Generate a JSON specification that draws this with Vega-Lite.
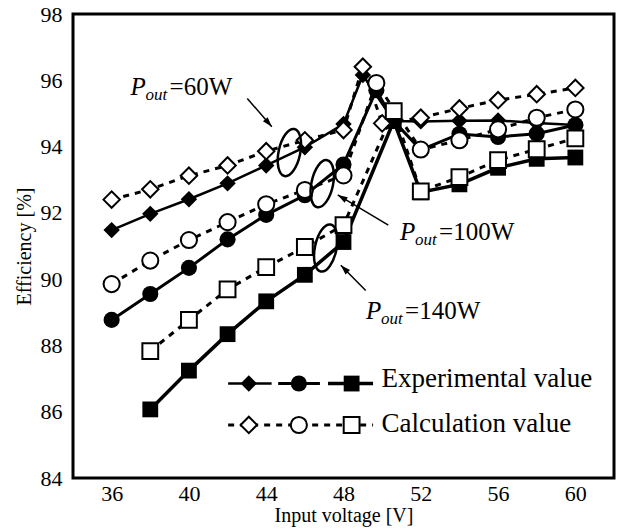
{
  "$schema": "https://vega.github.io/schema/vega-lite/v6.json",
  "width": 541,
  "height": 464,
  "autosize": "none",
  "padding": {"left": 73, "top": 14, "right": 6, "bottom": 52},
  "background": "white",
  "config": {
    "view": {"stroke": "black", "strokeWidth": 3},
    "axis": {
      "domain": false, "ticks": false,
      "labelFont": "Liberation Serif", "labelFontSize": 22, "labelColor": "black",
      "labelFlush": false, "labelOverlap": false, "labelBound": false,
      "titleFont": "Liberation Serif", "titleFontSize": 20, "titleFontWeight": "normal", "titleColor": "black",
      "grid": false
    }
  },
  "datasets": {
    "main": [
      {"V": 36, "eff": 91.48, "P": "60W", "type": "exp"},
      {"V": 38, "eff": 91.97, "P": "60W", "type": "exp"},
      {"V": 40, "eff": 92.41, "P": "60W", "type": "exp"},
      {"V": 42, "eff": 92.89, "P": "60W", "type": "exp"},
      {"V": 44, "eff": 93.43, "P": "60W", "type": "exp"},
      {"V": 46, "eff": 93.98, "P": "60W", "type": "exp"},
      {"V": 48, "eff": 94.68, "P": "60W", "type": "exp"},
      {"V": 49, "eff": 96.16, "P": "60W", "type": "exp"},
      {"V": 50.6, "eff": 94.77, "P": "60W", "type": "exp"},
      {"V": 52, "eff": 94.76, "P": "60W", "type": "exp"},
      {"V": 54, "eff": 94.78, "P": "60W", "type": "exp"},
      {"V": 56, "eff": 94.79, "P": "60W", "type": "exp"},
      {"V": 58, "eff": 94.71, "P": "60W", "type": "exp"},
      {"V": 60, "eff": 94.65, "P": "60W", "type": "exp"},
      {"V": 36, "eff": 92.40, "P": "60W", "type": "calc"},
      {"V": 38, "eff": 92.71, "P": "60W", "type": "calc"},
      {"V": 40, "eff": 93.12, "P": "60W", "type": "calc"},
      {"V": 42, "eff": 93.43, "P": "60W", "type": "calc"},
      {"V": 44, "eff": 93.86, "P": "60W", "type": "calc"},
      {"V": 46, "eff": 94.19, "P": "60W", "type": "calc"},
      {"V": 48, "eff": 94.50, "P": "60W", "type": "calc"},
      {"V": 49, "eff": 96.41, "P": "60W", "type": "calc"},
      {"V": 50, "eff": 94.70, "P": "60W", "type": "calc"},
      {"V": 52, "eff": 94.87, "P": "60W", "type": "calc"},
      {"V": 54, "eff": 95.15, "P": "60W", "type": "calc"},
      {"V": 56, "eff": 95.40, "P": "60W", "type": "calc"},
      {"V": 58, "eff": 95.58, "P": "60W", "type": "calc"},
      {"V": 60, "eff": 95.77, "P": "60W", "type": "calc"},
      {"V": 36, "eff": 88.77, "P": "100W", "type": "exp"},
      {"V": 38, "eff": 89.55, "P": "100W", "type": "exp"},
      {"V": 40, "eff": 90.34, "P": "100W", "type": "exp"},
      {"V": 42, "eff": 91.20, "P": "100W", "type": "exp"},
      {"V": 44, "eff": 91.94, "P": "100W", "type": "exp"},
      {"V": 46, "eff": 92.53, "P": "100W", "type": "exp"},
      {"V": 48, "eff": 93.46, "P": "100W", "type": "exp"},
      {"V": 49.7, "eff": 95.70, "P": "100W", "type": "exp"},
      {"V": 50.6, "eff": 94.77, "P": "100W", "type": "exp"},
      {"V": 52, "eff": 93.90, "P": "100W", "type": "exp"},
      {"V": 54, "eff": 94.38, "P": "100W", "type": "exp"},
      {"V": 56, "eff": 94.29, "P": "100W", "type": "exp"},
      {"V": 58, "eff": 94.39, "P": "100W", "type": "exp"},
      {"V": 60, "eff": 94.65, "P": "100W", "type": "exp"},
      {"V": 36, "eff": 89.85, "P": "100W", "type": "calc"},
      {"V": 38, "eff": 90.56, "P": "100W", "type": "calc"},
      {"V": 40, "eff": 91.18, "P": "100W", "type": "calc"},
      {"V": 42, "eff": 91.72, "P": "100W", "type": "calc"},
      {"V": 44, "eff": 92.26, "P": "100W", "type": "calc"},
      {"V": 46, "eff": 92.69, "P": "100W", "type": "calc"},
      {"V": 48, "eff": 93.13, "P": "100W", "type": "calc"},
      {"V": 49.7, "eff": 95.92, "P": "100W", "type": "calc"},
      {"V": 52, "eff": 93.91, "P": "100W", "type": "calc"},
      {"V": 54, "eff": 94.19, "P": "100W", "type": "calc"},
      {"V": 56, "eff": 94.52, "P": "100W", "type": "calc"},
      {"V": 58, "eff": 94.87, "P": "100W", "type": "calc"},
      {"V": 60, "eff": 95.12, "P": "100W", "type": "calc"},
      {"V": 38, "eff": 86.07, "P": "140W", "type": "exp"},
      {"V": 40, "eff": 87.24, "P": "140W", "type": "exp"},
      {"V": 42, "eff": 88.34, "P": "140W", "type": "exp"},
      {"V": 44, "eff": 89.33, "P": "140W", "type": "exp"},
      {"V": 46, "eff": 90.13, "P": "140W", "type": "exp"},
      {"V": 48, "eff": 91.12, "P": "140W", "type": "exp"},
      {"V": 50.6, "eff": 94.77, "P": "140W", "type": "exp"},
      {"V": 52, "eff": 92.62, "P": "140W", "type": "exp"},
      {"V": 54, "eff": 92.86, "P": "140W", "type": "exp"},
      {"V": 56, "eff": 93.36, "P": "140W", "type": "exp"},
      {"V": 58, "eff": 93.63, "P": "140W", "type": "exp"},
      {"V": 60, "eff": 93.67, "P": "140W", "type": "exp"},
      {"V": 38, "eff": 87.83, "P": "140W", "type": "calc"},
      {"V": 40, "eff": 88.77, "P": "140W", "type": "calc"},
      {"V": 42, "eff": 89.69, "P": "140W", "type": "calc"},
      {"V": 44, "eff": 90.36, "P": "140W", "type": "calc"},
      {"V": 46, "eff": 90.97, "P": "140W", "type": "calc"},
      {"V": 48, "eff": 91.63, "P": "140W", "type": "calc"},
      {"V": 50.6, "eff": 95.07, "P": "140W", "type": "calc"},
      {"V": 52, "eff": 92.65, "P": "140W", "type": "calc"},
      {"V": 54, "eff": 93.08, "P": "140W", "type": "calc"},
      {"V": 56, "eff": 93.59, "P": "140W", "type": "calc"},
      {"V": 58, "eff": 93.92, "P": "140W", "type": "calc"},
      {"V": 60, "eff": 94.25, "P": "140W", "type": "calc"}
    ],
    "xticks": [{"V": 36}, {"V": 40}, {"V": 44}, {"V": 48}, {"V": 52}, {"V": 56}, {"V": 60}],
    "yticks": [{"eff": 86}, {"eff": 88}, {"eff": 90}, {"eff": 92}, {"eff": 94}, {"eff": 96}],
    "labels": [
      {"V": 36.98, "eff": 95.55, "t": "=60W"},
      {"V": 50.93, "eff": 91.18, "t": "=100W"},
      {"V": 49.17, "eff": 88.80, "t": "=140W"}
    ],
    "arrows": [
      {"id": "a60", "V": 43.02, "eff": 95.45, "V2": 44.29, "eff2": 94.60},
      {"id": "a100", "V": 50.32, "eff": 91.63, "V2": 47.70, "eff2": 92.54},
      {"id": "a140", "V": 49.15, "eff": 89.66, "V2": 47.86, "eff2": 90.42}
    ],
    "ellipses": [
      {"V": 45.2, "eff": 93.82},
      {"V": 46.9, "eff": 92.88},
      {"V": 47.08, "eff": 90.94}
    ],
    "legseg": [
      {"V": 42.03, "V2": 44.28, "eff": 86.85, "P": "60W"},
      {"V": 44.62, "V2": 46.78, "eff": 86.85, "P": "100W"},
      {"V": 47.20, "V2": 49.53, "eff": 86.85, "P": "140W"}
    ],
    "legdot": [
      {"V": 42.03, "V2": 49.53, "eff": 85.6}
    ],
    "legsym": [
      {"V": 43.10, "eff": 86.85, "P": "60W", "type": "exp"},
      {"V": 45.69, "eff": 86.85, "P": "100W", "type": "exp"},
      {"V": 48.42, "eff": 86.85, "P": "140W", "type": "exp"},
      {"V": 43.10, "eff": 85.6, "P": "60W", "type": "calc"},
      {"V": 45.69, "eff": 85.6, "P": "100W", "type": "calc"},
      {"V": 48.42, "eff": 85.6, "P": "140W", "type": "calc"}
    ],
    "legtext": [
      {"V": 49.97, "eff": 86.74, "t": "Experimental value"},
      {"V": 49.97, "eff": 85.38, "t": "Calculation value"}
    ]
  },
  "encoding": {
    "x": {"field": "V", "type": "quantitative",
      "scale": {"domain": [34, 62], "nice": false, "zero": false},
      "axis": {"values": [36, 40, 44, 48, 52, 56, 60], "title": "Input voltage [V]", "labelPadding": 5, "titlePadding": 1}},
    "y": {"field": "eff", "type": "quantitative",
      "scale": {"domain": [84, 98], "nice": false, "zero": false},
      "axis": {"values": [84, 86, 88, 90, 92, 94, 96, 98], "title": "Efficiency [%]", "labelPadding": 11, "titlePadding": 6}}
  },
  "layer": [
    {
      "data": {"name": "xticks"},
      "mark": {"type": "tick", "orient": "vertical", "color": "black", "size": 9, "thickness": 3, "yOffset": -4.5, "opacity": 1},
      "encoding": {"y": {"datum": 84}}
    },
    {
      "data": {"name": "xticks"},
      "mark": {"type": "tick", "orient": "vertical", "color": "black", "size": 9, "thickness": 3, "yOffset": 4.5, "opacity": 1},
      "encoding": {"y": {"datum": 98}}
    },
    {
      "data": {"name": "yticks"},
      "mark": {"type": "tick", "orient": "horizontal", "color": "black", "size": 9, "thickness": 3, "xOffset": 4.5, "opacity": 1},
      "encoding": {"x": {"datum": 34}}
    },
    {
      "data": {"name": "yticks"},
      "mark": {"type": "tick", "orient": "horizontal", "color": "black", "size": 9, "thickness": 3, "xOffset": -4.5, "opacity": 1},
      "encoding": {"x": {"datum": 62}}
    },
    {
      "data": {"name": "main"},
      "transform": [{"filter": "datum.type === 'calc'"}],
      "mark": {"type": "line", "color": "black", "strokeWidth": 3, "strokeDash": [6, 6]},
      "encoding": {"detail": {"field": "P"}}
    },
    {
      "data": {"name": "main"},
      "transform": [{"filter": "datum.type === 'exp'"}],
      "mark": {"type": "line", "color": "black"},
      "encoding": {
        "detail": {"field": "P"},
        "strokeWidth": {"field": "P", "type": "nominal", "scale": {"domain": ["60W", "100W", "140W"], "range": [2.5, 3.5, 3.5]}, "legend": null}
      }
    },
    {
      "data": {"name": "main"},
      "transform": [{"filter": "datum.type === 'exp'"}],
      "mark": {"type": "point", "filled": true, "color": "black", "opacity": 1},
      "encoding": {
        "shape": {"field": "P", "type": "nominal", "scale": {"domain": ["60W", "100W", "140W"], "range": ["diamond", "circle", "square"]}, "legend": null},
        "size": {"field": "P", "type": "nominal", "scale": {"domain": ["60W", "100W", "140W"], "range": [270, 250, 170]}, "legend": null}
      }
    },
    {
      "data": {"name": "main"},
      "transform": [{"filter": "datum.type === 'calc'"}],
      "mark": {"type": "point", "filled": true, "fill": "white", "stroke": "black", "strokeWidth": 2, "opacity": 1},
      "encoding": {
        "shape": {"field": "P", "type": "nominal", "scale": {"domain": ["60W", "100W", "140W"], "range": ["diamond", "circle", "square"]}, "legend": null},
        "size": {"field": "P", "type": "nominal", "scale": {"domain": ["60W", "100W", "140W"], "range": [270, 250, 170]}, "legend": null}
      }
    },
    {
      "data": {"name": "ellipses"},
      "mark": {"type": "point", "shape": "M0,-1A0.45,1,0,1,1,0,1A0.45,1,0,1,1,0,-1Z", "size": 2304, "angle": 12, "filled": false, "stroke": "black", "strokeWidth": 2.5, "opacity": 1}
    },
    {
      "data": {"name": "arrows"},
      "mark": {"type": "rule", "color": "black", "strokeWidth": 1.5},
      "encoding": {"x2": {"field": "V2"}, "y2": {"field": "eff2"}}
    },
    {
      "data": {"name": "arrows"},
      "transform": [{"filter": "datum.id === 'a60'"}],
      "mark": {"type": "point", "shape": "M0,0L-0.7,2.2L0.7,2.2Z", "size": 81, "angle": 139, "filled": true, "color": "black", "opacity": 1},
      "encoding": {"x": {"field": "V2", "type": "quantitative", "title": "Input voltage [V]"}, "y": {"field": "eff2", "type": "quantitative", "title": "Efficiency [%]"}}
    },
    {
      "data": {"name": "arrows"},
      "transform": [{"filter": "datum.id === 'a100'"}],
      "mark": {"type": "point", "shape": "M0,0L-0.7,2.2L0.7,2.2Z", "size": 81, "angle": 300.7, "filled": true, "color": "black", "opacity": 1},
      "encoding": {"x": {"field": "V2", "type": "quantitative", "title": "Input voltage [V]"}, "y": {"field": "eff2", "type": "quantitative", "title": "Efficiency [%]"}}
    },
    {
      "data": {"name": "arrows"},
      "transform": [{"filter": "datum.id === 'a140'"}],
      "mark": {"type": "point", "shape": "M0,0L-0.7,2.2L0.7,2.2Z", "size": 81, "angle": 315.2, "filled": true, "color": "black", "opacity": 1},
      "encoding": {"x": {"field": "V2", "type": "quantitative", "title": "Input voltage [V]"}, "y": {"field": "eff2", "type": "quantitative", "title": "Efficiency [%]"}}
    },
    {
      "data": {"name": "labels"},
      "mark": {"type": "text", "text": "P", "font": "Liberation Serif", "fontStyle": "italic", "fontSize": 25, "align": "left", "baseline": "alphabetic", "color": "black"}
    },
    {
      "data": {"name": "labels"},
      "mark": {"type": "text", "text": "out", "font": "Liberation Serif", "fontStyle": "italic", "fontSize": 17, "align": "left", "baseline": "alphabetic", "dx": 15, "dy": 5, "color": "black"}
    },
    {
      "data": {"name": "labels"},
      "mark": {"type": "text", "font": "Liberation Serif", "fontSize": 25, "align": "left", "baseline": "alphabetic", "dx": 39, "color": "black"},
      "encoding": {"text": {"field": "t"}}
    },
    {
      "data": {"name": "legseg"},
      "mark": {"type": "rule", "color": "black"},
      "encoding": {
        "x2": {"field": "V2"},
        "strokeWidth": {"field": "P", "type": "nominal", "scale": {"domain": ["60W", "100W", "140W"], "range": [2.5, 3.5, 3.5]}, "legend": null}
      }
    },
    {
      "data": {"name": "legdot"},
      "mark": {"type": "rule", "color": "black", "strokeWidth": 3, "strokeDash": [6, 6]},
      "encoding": {"x2": {"field": "V2"}}
    },
    {
      "data": {"name": "legsym"},
      "transform": [{"filter": "datum.type === 'exp'"}],
      "mark": {"type": "point", "filled": true, "color": "black", "opacity": 1},
      "encoding": {
        "shape": {"field": "P", "type": "nominal", "scale": {"domain": ["60W", "100W", "140W"], "range": ["diamond", "circle", "square"]}, "legend": null},
        "size": {"field": "P", "type": "nominal", "scale": {"domain": ["60W", "100W", "140W"], "range": [270, 250, 170]}, "legend": null}
      }
    },
    {
      "data": {"name": "legsym"},
      "transform": [{"filter": "datum.type === 'calc'"}],
      "mark": {"type": "point", "filled": true, "fill": "white", "stroke": "black", "strokeWidth": 2, "opacity": 1},
      "encoding": {
        "shape": {"field": "P", "type": "nominal", "scale": {"domain": ["60W", "100W", "140W"], "range": ["diamond", "circle", "square"]}, "legend": null},
        "size": {"field": "P", "type": "nominal", "scale": {"domain": ["60W", "100W", "140W"], "range": [270, 250, 170]}, "legend": null}
      }
    },
    {
      "data": {"name": "legtext"},
      "mark": {"type": "text", "font": "Liberation Serif", "fontSize": 27, "align": "left", "baseline": "alphabetic", "color": "black"},
      "encoding": {"text": {"field": "t"}}
    }
  ]
}
